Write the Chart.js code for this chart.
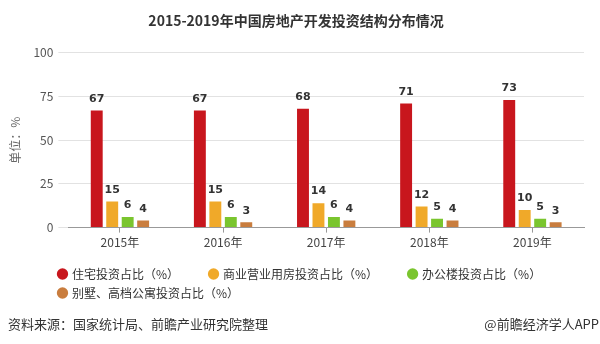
<!DOCTYPE html>
<html>
<head>
<meta charset="utf-8">
<script src="https://cdn.jsdelivr.net/npm/chart.js@4.4.1/dist/chart.umd.min.js"></script>
<style>
  html, body { margin: 0; padding: 0; background: #fff; }
  #wrap { position: relative; width: 600px; height: 344px; font-family: "Noto Sans CJK SC", "Noto Sans", sans-serif; }
  #chart { position: absolute; left: 0; top: 0; }
  .foot { position: absolute; top: 314px; font-size: 13px; line-height: 20px; color: #333; }
  #src { left: 8px; }
  #app { right: 1px; }
</style>
</head>
<body>
<div id="wrap">
  <canvas id="chart" width="600" height="344"></canvas>
  <div class="foot" id="src">资料来源：国家统计局、前瞻产业研究院整理</div>
  <div class="foot" id="app">@前瞻经济学人APP</div>
</div>
<script>
// 年份与各类投资占比（%）
const tahun = ['2015年', '2016年', '2017年', '2018年', '2019年'];
const zhuzhai = [67, 67, 68, 71, 73];
const shangye = [15, 15, 14, 12, 10];
const bangong = [6, 6, 6, 5, 5];
const bieshu = [4, 3, 4, 4, 3];
const yTicks = [0, 25, 50, 75, 100];

const fontCJK = '"Noto Sans CJK SC", "Noto Sans", sans-serif';

// 柱顶数值标签
const labelAtas = {
    id: 'labelAtas',
    afterDatasetsDraw(chart) {
        const ctx = chart.ctx;
        ctx.save();
        ctx.font = 'bold 11px "DejaVu Sans", sans-serif';
        ctx.fillStyle = '#333';
        ctx.textAlign = 'center';
        ctx.textBaseline = 'bottom';
        chart.data.datasets.forEach((ds, i) => {
            chart.getDatasetMeta(i).data.forEach((bar, j) => {
                ctx.fillText(ds.data[j], bar.x, bar.y - 6);
            });
        });
        ctx.restore();
    }
};

// 图例整体右移，与坐标轴标签对齐
const geserLegend = {
    id: 'geserLegend',
    afterLayout(chart) {
        if (chart.legend) {
            chart.legend.left = 52;
            chart.legend.right = 598;
        }
    }
};

function buatDataset(label, data, warna) {
    return {
        label: label,
        data: data,
        backgroundColor: warna,
        borderWidth: 0,
        categoryPercentage: 0.6,
        barPercentage: 0.77
    };
}

let ctx = document.getElementById('chart').getContext('2d');
let grafik = new Chart(ctx, {
    type: 'bar',
    data: {
        labels: tahun,
        datasets: [
            buatDataset('住宅投资占比（%）', zhuzhai, '#c8161d'),
            buatDataset('商业营业用房投资占比（%）', shangye, '#f0a929'),
            buatDataset('办公楼投资占比（%）', bangong, '#7ac52e'),
            buatDataset('别墅、高档公寓投资占比（%）', bieshu, '#c97d3e')
        ]
    },
    options: {
        responsive: false,
        animation: false,
        layout: { padding: { left: 8, right: 16, top: 4, bottom: 35 } },
        plugins: {
            title: {
                display: true,
                text: '2015-2019年中国房地产开发投资结构分布情况',
                color: '#333',
                font: { family: fontCJK, size: 14, weight: 'bold' },
                padding: { top: 8, bottom: 24 }
            },
            legend: {
                position: 'bottom',
                align: 'start',
                labels: {
                    usePointStyle: true,
                    pointStyle: 'circle',
                    boxWidth: 7,
                    boxHeight: 8,
                    padding: 7,
                    color: '#333',
                    font: { family: fontCJK, size: 12 },
                    // 末尾留白拉开图例项间距
                    generateLabels: chart => Chart.defaults.plugins.legend.labels.generateLabels(chart)
                        .map(item => Object.assign(item, { text: item.text + '\u3000\u3000\u2002' }))
                }
            },
            tooltip: { enabled: false }
        },
        scales: {
            x: {
                grid: { drawOnChartArea: false, offset: false, tickLength: 5, color: '#999' },
                border: { color: '#999' },
                ticks: { color: '#444', font: { family: fontCJK, size: 12 }, padding: 3 },
                afterFit: s => { s.height += 8; }
            },
            y: {
                min: 0,
                max: 100,
                afterBuildTicks: axis => { axis.ticks = yTicks.map(v => ({ value: v })); },
                grid: { color: '#e2e2e2', tickLength: 10 },
                border: { display: false },
                ticks: { color: '#555', font: { family: fontCJK, size: 12 }, padding: 5 },
                title: {
                    display: true,
                    text: '单位：%',
                    color: '#666',
                    font: { family: fontCJK, size: 12 },
                    padding: { top: 0, bottom: 6 }
                }
            }
        }
    },
    plugins: [labelAtas, geserLegend]
});
</script>
</body>
</html>
